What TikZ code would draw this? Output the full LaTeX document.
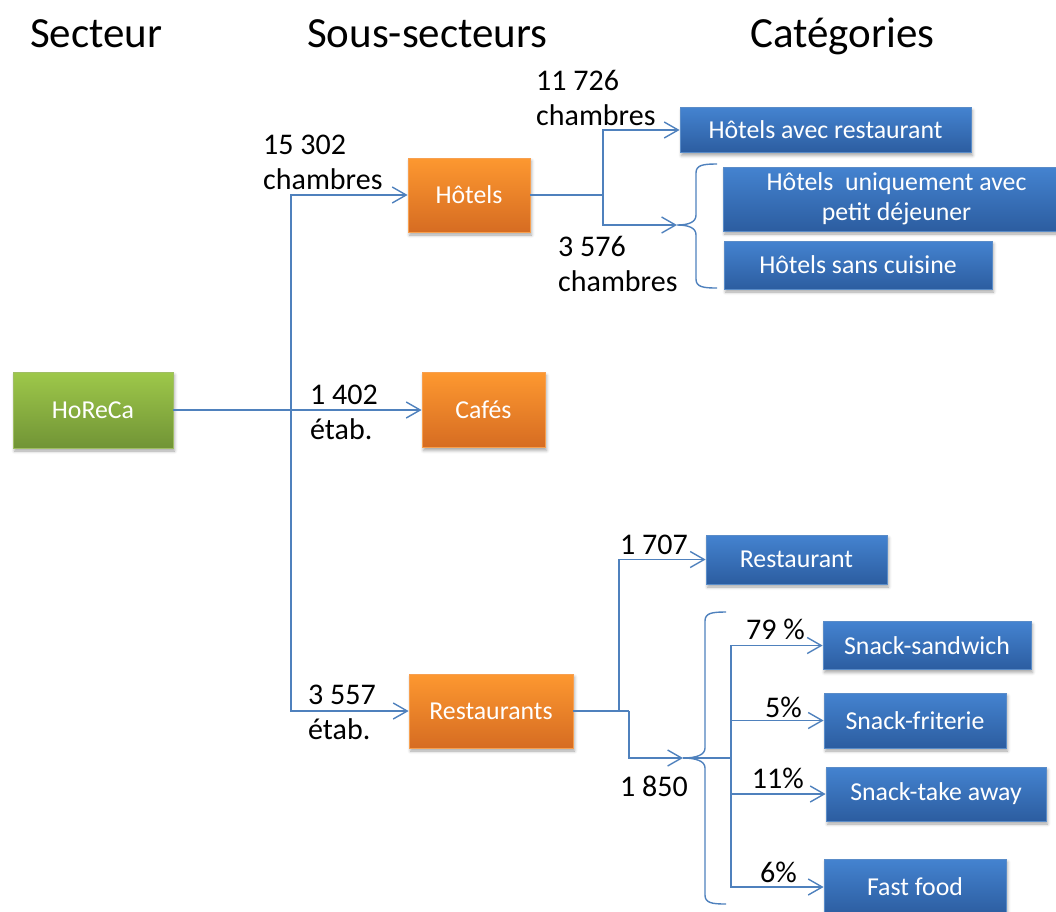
\documentclass[tikz,border=0pt]{standalone}
\usepackage{fontspec}
\setmainfont{Carlito}
\usetikzlibrary{arrows.meta,shadows.blur}
\definecolor{lineblue}{RGB}{79,129,189}
\definecolor{bluetop}{RGB}{68,131,208}
\definecolor{bluebot}{RGB}{44,93,160}
\definecolor{blueline}{RGB}{90,140,200}
\definecolor{orangetop}{RGB}{253,152,48}
\definecolor{orangebot}{RGB}{214,108,34}
\definecolor{orangeline}{RGB}{247,160,80}
\definecolor{greentop}{RGB}{158,200,74}
\definecolor{greenbot}{RGB}{113,148,54}
\definecolor{greenline}{RGB}{160,190,100}
\tikzset{
  box/.style={draw, line width=0.8pt, inner sep=0pt, align=center, text=white,
    font=\fontsize{25.8}{30}\selectfont,
    blur shadow={shadow xshift=1.5pt, shadow yshift=-3pt, shadow blur radius=3pt, shadow opacity=35}},
  wh/.style 2 args={minimum width=#1pt, minimum height=#2pt},
  bluebox/.style={box, draw=blueline, top color=bluetop, bottom color=bluebot},
  orangebox/.style={box, draw=orangeline, top color=orangetop, bottom color=orangebot},
  greenbox/.style={box, draw=greenline, top color=greentop, bottom color=greenbot},
  conn/.style={draw=lineblue, line width=1.4pt},
  arr/.style={conn, -{Straight Barb[length=14pt,width=16pt]}},
  lbl/.style={inner sep=0pt, align=left, font=\fontsize{30}{35}\selectfont, anchor=north west},
  pct/.style={inner sep=0pt, font=\fontsize{30}{35}\selectfont, anchor=base east},
  ttl/.style={inner sep=0pt, font=\fontsize{43}{50}\selectfont, anchor=base west},
}
\begin{document}
\begin{tikzpicture}[x=1pt,y=-1pt]
\useasboundingbox (0,0) rectangle (1056,911);
% titles
\node[ttl] (t1) at (30,47) {Secteur};
\node[ttl] (t2) at (307,47) {Sous-secteurs};
\node[ttl] (t3) at (750,47) {Catégories};
% boxes
\node[greenbox, wh={160}{76}] (horeca) at (93,410) {HoReCa};
\node[orangebox, wh={122}{74}] (hotels) at (469,195) {Hôtels};
\node[orangebox, wh={123}{75}] (cafes) at (483.5,410) {Cafés};
\node[orangebox, wh={164}{74}] (restos) at (491,711) {Restaurants};
\node[bluebox, wh={291}{45}] (har) at (825.5,130) {Hôtels avec restaurant};
\node[bluebox, wh={347}{64}] (hup) at (896.5,199) {Hôtels\ \ uniquement avec\\petit déjeuner};
\node[bluebox, wh={268}{48}] (hsc) at (858,265) {Hôtels sans cuisine};
\node[bluebox, wh={181}{49}] (rest) at (796.5,559.5) {Restaurant};
\node[bluebox, wh={208}{48}] (ss) at (927,645.5) {Snack-sandwich};
\node[bluebox, wh={182}{55}] (sf) at (915,720.5) {Snack-friterie};
\node[bluebox, wh={220}{54}] (sta) at (936,794) {Snack-take away};
\node[bluebox, wh={182}{56}] (ff) at (915,887) {Fast food};
% junctions
\coordinate (j1) at (291,410);
\coordinate (j2) at (603,195);
\coordinate (b1tip) at (677,225);
\coordinate (j3) at (619,711);
\coordinate (j4) at (629,711);
\coordinate (b2tip) at (683,758);
\coordinate (j5) at (731,758);
% connectors
\draw[arr] (horeca.east) -- (cafes.west);
\draw[arr] (j1) |- (hotels.west);
\draw[arr] (j1) |- (restos.west);
\draw[conn] (hotels.east) -- (j2);
\draw[arr] (j2) |- (har.west);
\draw[arr] (j2) |- (b1tip);
\draw[conn] (restos.east) -- (j4);
\draw[arr] (j3) |- (rest.west);
\draw[arr] (j4) |- (b2tip);
\draw[conn] (b2tip) -- (j5);
\draw[arr] (j5) |- (ss.west);
\draw[arr] (j5) |- (sf.west);
\draw[arr] (j5) |- (sta.west);
\draw[arr] (j5) |- (ff.west);
% braces
\draw[conn] (717,164) .. controls (703,164) and (696,165) .. (696,173) -- (696,215)
  .. controls (696,222) and (689,225) .. (b1tip)
  .. controls (689,225) and (696,228) .. (696,235) -- (696,279)
  .. controls (696,287) and (703,288) .. (717,288);
\draw[conn] (726,612) .. controls (712,612) and (705,613) .. (705,621) -- (705,748)
  .. controls (705,755) and (696,758) .. (b2tip)
  .. controls (696,758) and (705,761) .. (705,768) -- (705,895)
  .. controls (705,903) and (712,904) .. (726,904);
% labels
\node[lbl] (l1) at (263,135) {15 302\\chambres};
\node[lbl] (l2) at (536,70) {11 726\\chambres};
\node[lbl] (l3) at (558,236) {3 576\\chambres};
\node[lbl] (l4) at (310,385) {1 402\\étab.};
\node[lbl] (l5) at (308,685) {3 557\\étab.};
\node[lbl] (l6) at (620,535) {1 707};
\node[lbl] (l7) at (620,776) {1 850};
\node[pct] (p1) at (805,639) {79 \%};
\node[pct] (p2) at (802,717) {5\%};
\node[pct] (p3) at (804,788) {11\%};
\node[pct] (p4) at (797,882) {6\%};
\end{tikzpicture}
\end{document}
